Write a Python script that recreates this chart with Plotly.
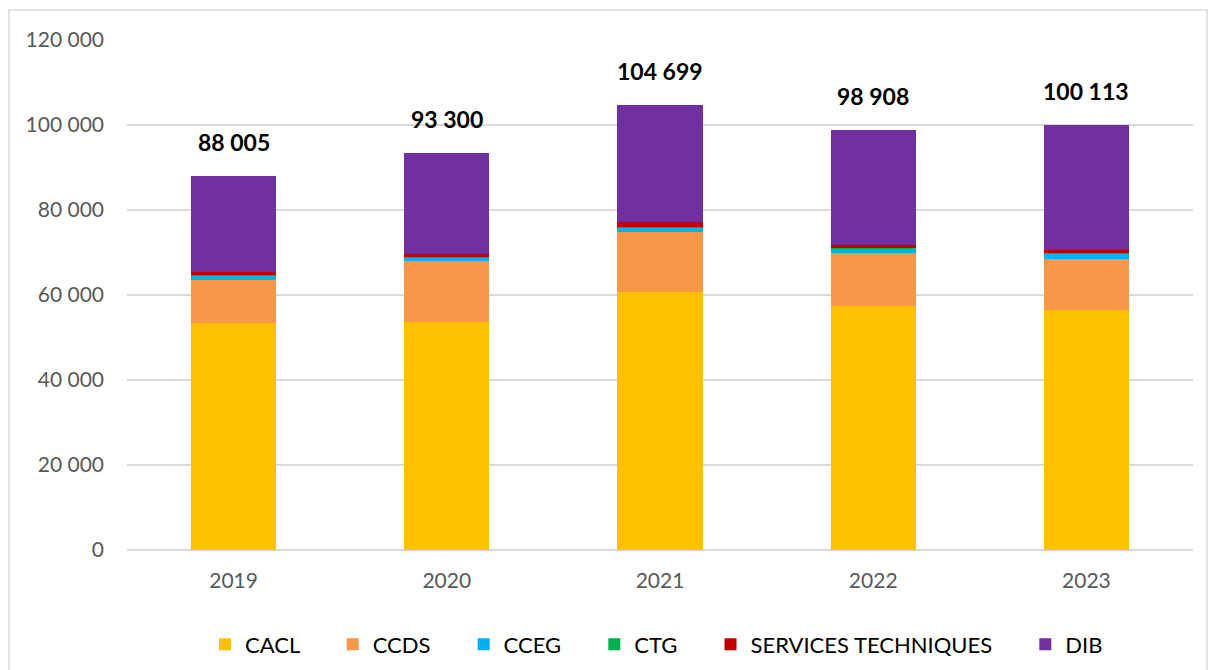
import plotly.graph_objects as go

# Annual volumes per entity (stacked), 2019-2023
years = ["2019", "2020", "2021", "2022", "2023"]
cacl = [53500, 53650, 60640, 57340, 56470]
ccds = [10100, 14280, 14110, 12540, 12070]
cceg = [900, 1000, 1150, 1160, 1240]
ctg = [100, 100, 100, 100, 100]
services_techniques = [800, 700, 1250, 630, 630]
dib = [22605, 23570, 27449, 27138, 29603]

series = [
    ("CACL", cacl, "#FFC000"),
    ("CCDS", ccds, "#F79646"),
    ("CCEG", cceg, "#00B0F0"),
    ("CTG", ctg, "#00B050"),
    ("SERVICES TECHNIQUES", services_techniques, "#C00000"),
    ("DIB", dib, "#7030A0"),
]

totals = [sum(vals) for vals in zip(cacl, ccds, cceg, ctg, services_techniques, dib)]

FONT = "Lato, 'Open Sans', sans-serif"
PAD = "\u00a0" * 5  # extra room between legend entries

fig = go.Figure()
for i, (name, vals, color) in enumerate(series):
    label = name if i == len(series) - 1 else name + PAD
    fig.add_trace(go.Bar(
        x=years, y=vals, name=label,
        marker=dict(color=color, line=dict(width=0)),
    ))

# Total above each stack (category axis: annotations use the category index)
for idx, tot in enumerate(totals):
    fig.add_annotation(
        x=idx, y=tot, xref="x", yref="y", yshift=34, showarrow=False,
        text=f"<b>{tot:,}</b>".replace(",", " "),
        font=dict(family=FONT, size=23, color="#000000"),
        yanchor="middle",
    )

# Outer chart frame
fig.add_shape(
    type="rect", xref="paper", yref="paper",
    x0=(9 - 127) / 1066, x1=(1207 - 127) / 1066,
    y0=(550 - 690) / 510, y1=(550 - 10) / 510,
    line=dict(color="#D9D9D9", width=1.5), fillcolor="rgba(0,0,0,0)",
    layer="below",
)

fig.update_layout(
    barmode="stack",
    bargap=0.6,
    separators=", ",
    width=1210, height=670,
    margin=dict(l=127, r=17, t=40, b=120, autoexpand=False),
    paper_bgcolor="white",
    plot_bgcolor="white",
    font=dict(family=FONT, size=21, color="#595959"),
    showlegend=True,
    legend=dict(
        orientation="h", traceorder="normal",
        x=(205 - 127) / 1066, xanchor="left", y=-0.185, yanchor="middle",
        font=dict(family=FONT, size=22, color="#000000"),
        itemwidth=30,
    ),
    xaxis=dict(
        type="category", showgrid=False, showline=False, ticks="",
        tickfont=dict(size=21, color="#595959"),
        ticklabelstandoff=16, automargin=False,
    ),
    yaxis=dict(
        range=[0, 120000], dtick=20000, tickformat=",d",
        showgrid=True, gridcolor="#D9D9D9", gridwidth=1.5,
        zeroline=True, zerolinecolor="#D9D9D9", zerolinewidth=1.5,
        showline=False, ticks="",
        tickfont=dict(size=21, color="#595959"),
        ticklabelstandoff=22, automargin=False,
    ),
)

fig.write_html("out.html")
